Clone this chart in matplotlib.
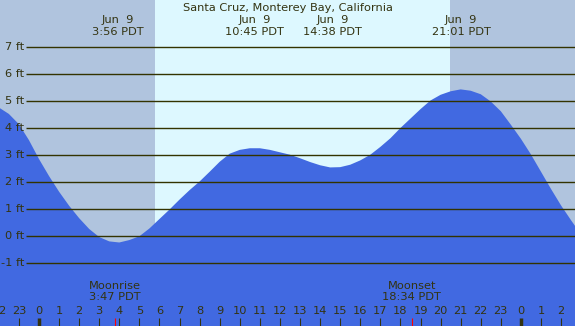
import numpy as np
import matplotlib
matplotlib.use("Agg")
import matplotlib.pyplot as plt

# tide heights (ft), hours relative to Jun 9 00:00
hours = [-2.0, -1.5, -1.0, -0.5, 0.0, 0.5, 1.0, 1.5, 2.0, 2.5, 3.0, 3.5,
         4.0, 4.5, 5.0, 5.5, 6.0, 6.5, 7.0, 7.5, 8.0, 8.5, 9.0, 9.5,
         10.0, 10.5, 11.0, 11.5, 12.0, 12.5, 13.0, 13.5, 14.0, 14.5, 15.0, 15.5,
         16.0, 16.5, 17.0, 17.5, 18.0, 18.5, 19.0, 19.5, 20.0, 20.5, 21.0, 21.5,
         22.0, 22.5, 23.0, 23.5, 24.0, 24.5, 25.0, 25.5, 26.0, 26.5, 27.0]
heights = [4.76, 4.52, 4.14, 3.55, 2.85, 2.22, 1.64, 1.12, 0.66, 0.26, -0.04, -0.20,
           -0.24, -0.15, -0.01, 0.28, 0.63, 0.98, 1.35, 1.70, 2.02, 2.38, 2.75, 3.05,
           3.19, 3.25, 3.25, 3.19, 3.10, 3.01, 2.88, 2.74, 2.62, 2.54, 2.55, 2.64,
           2.80, 3.01, 3.30, 3.62, 4.00, 4.35, 4.70, 5.02, 5.23, 5.36, 5.43, 5.38,
           5.25, 4.98, 4.62, 4.12, 3.60, 3.02, 2.38, 1.74, 1.13, 0.58, 0.05]

title = "Santa Cruz, Monterey Bay, California"
event_hours = [3 + 56 / 60, 10 + 45 / 60, 14 + 38 / 60, 21 + 1 / 60]
event_labels = ["3:56 PDT", "10:45 PDT", "14:38 PDT", "21:01 PDT"]
event_day = "Jun  9"

sunrise = 5 + 47 / 60
sunset = 20 + 28 / 60
moonrise = 3 + 47 / 60
moonset = 18 + 34 / 60
moon_labels = [("Moonrise", "3:47 PDT"), ("Moonset", "18:34 PDT")]

ft_levels = [-1, 0, 1, 2, 3, 4, 5, 6, 7]
tick_hours = list(range(-2, 27))

# pixel geometry of the original image
W, H = 575, 326
X0, PX_H = 39, 20.08      # x pixel of hour 0, pixels per hour
Y0, PX_FT = 236, 27       # y pixel of 0 ft, pixels per ft


def hx(px):
    return (px - X0) / PX_H


def fy(py):
    return (Y0 - py) / PX_FT


night = "#b0c4de"
day = "#ddf8ff"
water = "#4169e1"
ink = "#333311"
fs = 8.2

fig = plt.figure(figsize=(W / 100, H / 100), dpi=100)
ax = fig.add_axes([0, 0, 1, 1])
ax.set_xlim(hx(0), hx(W))
ax.set_ylim(fy(H), fy(0))
ax.axis("off")

ax.axvspan(hx(0), sunrise, color=night, lw=0, zorder=0)
ax.axvspan(sunrise, sunset, color=day, lw=0, zorder=0)
ax.axvspan(sunset, hx(W), color=night, lw=0, zorder=0)

ax.fill_between(hours, heights, fy(H), color=water, lw=0, zorder=1)

ax.hlines(ft_levels, hx(26), hx(W), color="#333300", lw=1.0, zorder=2)
for lv in ft_levels:
    ax.text(hx(24), lv, f"{lv} ft", ha="right", va="center", fontsize=fs, color=ink, zorder=3)

ax.text(hx(W / 2), fy(8), title, ha="center", va="center", fontsize=fs, color=ink)
for h, lab in zip(event_hours, event_labels):
    ax.text(h, fy(20), event_day, ha="center", va="center", fontsize=fs, color=ink)
    ax.text(h, fy(32), lab, ha="center", va="center", fontsize=fs, color=ink)

for h, (a, b) in zip([moonrise, moonset], moon_labels):
    ax.text(h, fy(286), a, ha="center", va="center", fontsize=fs, color=ink)
    ax.text(h, fy(297.5), b, ha="center", va="center", fontsize=fs, color=ink)
    ax.vlines(h, fy(H), fy(318), color="red", lw=0.8, zorder=3)

for h in tick_hours:
    ax.text(h, fy(311), str(h % 24), ha="center", va="center", fontsize=fs, color=ink)
    ax.vlines(h, fy(H), fy(318), color=ink, lw=2.5 if h % 24 == 0 else 0.8, zorder=3)

fig.savefig("out.png", dpi=100)
